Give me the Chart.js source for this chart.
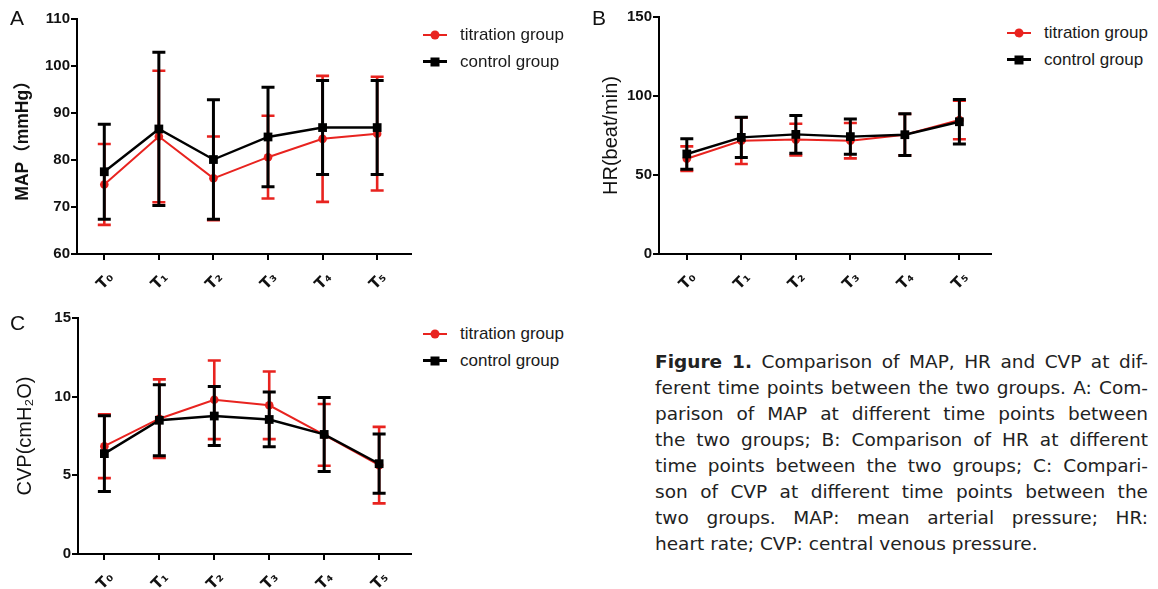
<!DOCTYPE html>
<html>
<head>
<meta charset="utf-8">
<script src="https://cdn.jsdelivr.net/npm/chart.js@4.4.1/dist/chart.umd.min.js"></script>
<style>
  html, body { margin:0; padding:0; background:#fff; }
  #wrap { position:relative; width:1158px; height:589px; overflow:hidden; background:#fff; font-family:"Liberation Sans", Arial, sans-serif; }
  canvas { position:absolute; }
  .letter { position:absolute; font-size:21px; line-height:1; color:#111; }
  .leg { position:absolute; font-size:17px; color:#1a1a1a; }
  .leg .row { height:27px; display:flex; align-items:center; white-space:nowrap; }
  .mk { position:relative; display:inline-block; width:24px; height:2px; margin-right:13px; }
  .mk i { position:absolute; left:50%; top:50%; transform:translate(-50%,-50%); display:block; }
  .mk.red { background:#e8231f; }
  .mk.red i { width:9px; height:9px; border-radius:50%; background:#e8231f; }
  .mk.blk { background:#000; height:3px; }
  .mk.blk i { width:9px; height:9px; background:#000; }
  #cap { position:absolute; left:655px; top:0; width:493px; font-family:"DejaVu Sans", sans-serif; font-size:18.5px; color:#222; }
  #cap .ln { position:absolute; left:0; height:26px; line-height:26px; white-space:nowrap; }
</style>
</head>
<body>
<div id="wrap">
  <canvas id="cA" width="420" height="300" style="left:0;top:0"></canvas>
  <canvas id="cB" width="420" height="300" style="left:580px;top:0"></canvas>
  <canvas id="cC" width="420" height="289" style="left:0;top:300px"></canvas>

  <div class="letter" style="left:10px;top:7px">A</div>
  <div class="letter" style="left:592px;top:7px">B</div>
  <div class="letter" style="left:10px;top:312px">C</div>

  <div class="leg" style="left:423px;top:21px">
    <div class="row"><span class="mk red"><i></i></span>titration group</div>
    <div class="row"><span class="mk blk"><i></i></span>control group</div>
  </div>
  <div class="leg" style="left:1007px;top:19px">
    <div class="row"><span class="mk red"><i></i></span>titration group</div>
    <div class="row"><span class="mk blk"><i></i></span>control group</div>
  </div>
  <div class="leg" style="left:423px;top:320px">
    <div class="row"><span class="mk red"><i></i></span>titration group</div>
    <div class="row"><span class="mk blk"><i></i></span>control group</div>
  </div>

  <div id="cap">
    <div class="ln"><b>Figure 1.</b> Comparison of MAP, HR and CVP at dif-</div>
    <div class="ln">ferent time points between the two groups. A: Com-</div>
    <div class="ln">parison of MAP at different time points between</div>
    <div class="ln">the two groups; B: Comparison of HR at different</div>
    <div class="ln">time points between the two groups; C: Compari-</div>
    <div class="ln">son of CVP at different time points between the</div>
    <div class="ln">two groups. MAP: mean arterial pressure; HR:</div>
    <div class="ln last">heart rate; CVP: central venous pressure.</div>
  </div>
</div>

<script>
// ---- data ----
const timeLabels = ['T\u2080', 'T\u2081', 'T\u2082', 'T\u2083', 'T\u2084', 'T\u2085'];

const mapTitrationMean = [74.8, 85.0, 76.1, 80.6, 84.5, 85.6];
const mapTitrationSD   = [8.6, 14.0, 8.9, 8.8, 13.4, 12.1];
const mapControlMean   = [77.5, 86.6, 80.1, 84.9, 86.9, 86.9];
const mapControlSD     = [10.1, 16.3, 12.7, 10.6, 10.0, 10.0];
const mapTicks = [60, 70, 80, 90, 100, 110];

const hrTitrationMean = [60.3, 71.7, 72.4, 71.7, 75.5, 84.8];
const hrTitrationSD   = [7.8, 14.7, 10.0, 11.2, 13.1, 12.2];
const hrControlMean   = [63.3, 73.8, 75.7, 74.3, 75.5, 83.7];
const hrControlSD     = [9.7, 12.7, 12.0, 11.2, 13.2, 14.1];
const hrTicks = [0, 50, 100, 150];

const cvpTitrationMean = [6.85, 8.6, 9.8, 9.45, 7.57, 5.65];
const cvpTitrationSD   = [2.03, 2.5, 2.5, 2.15, 1.96, 2.43];
const cvpControlMean   = [6.38, 8.5, 8.77, 8.55, 7.6, 5.74];
const cvpControlSD     = [2.41, 2.26, 1.88, 1.74, 2.35, 1.88];
const cvpTicks = [0, 5, 10, 15];

const RED = '#e8231f', BLACK = '#000000';

const errorBars = {
  id: 'errorBars',
  beforeDatasetDraw(chart, args) {
    const ds = chart.data.datasets[args.index];
    if (!ds.sd) return;
    const ctx = chart.ctx, xs = chart.scales.x, ys = chart.scales.y;
    ctx.save();
    ctx.strokeStyle = ds.borderColor;
    ctx.lineWidth = ds.errWidth;
    ctx.lineCap = 'butt';
    ds.data.forEach((p, i) => {
      const x = xs.getPixelForValue(p.x);
      const t = ys.getPixelForValue(p.y + ds.sd[i]);
      const b = ys.getPixelForValue(p.y - ds.sd[i]);
      ctx.beginPath();
      ctx.moveTo(x, t); ctx.lineTo(x, b);
      ctx.moveTo(x - ds.capW, t); ctx.lineTo(x + ds.capW, t);
      ctx.moveTo(x - ds.capW, b); ctx.lineTo(x + ds.capW, b);
      ctx.stroke();
    });
    ctx.restore();
  }
};

function pts(arr) { return arr.map((v, i) => ({ x: i, y: v })); }

function makeChart(id, cfg) {
  const axisFont = { family: '"Liberation Sans", Arial, "Noto Sans CJK SC", sans-serif', size: 15, weight: 'bold' };
  const xFont = { family: '"DejaVu Sans", "Liberation Sans", sans-serif', size: 15, weight: 'bold' };
  new Chart(document.getElementById(id), {
    type: 'line',
    data: {
      datasets: [
        {
          label: 'titration group', data: pts(cfg.tMean), sd: cfg.tSD,
          borderColor: RED, backgroundColor: RED, borderWidth: 2,
          pointStyle: 'circle', pointRadius: 4.3, pointBorderWidth: 0,
          errWidth: 2.6, capW: 6.5, order: 1, tension: 0
        },
        {
          label: 'control group', data: pts(cfg.cMean), sd: cfg.cSD,
          borderColor: BLACK, backgroundColor: BLACK, borderWidth: 2.4,
          pointStyle: 'rect', pointRadius: 6.2, pointBorderWidth: 0,
          errWidth: 3, capW: 6.5, order: 0, tension: 0
        }
      ]
    },
    options: {
      responsive: false,
      animation: false,
      devicePixelRatio: 1,
      layout: { padding: { left: 0, top: cfg.top, right: cfg.right, bottom: 0 } },
      plugins: { legend: { display: false }, tooltip: { enabled: false } },
      scales: {
        x: {
          type: 'linear', min: cfg.xmin, max: cfg.xmax,
          afterBuildTicks: s => { s.ticks = timeLabels.map((_, i) => ({ value: i })); },
          afterFit: s => { s.height = cfg.xh; },
          ticks: {
            callback: v => timeLabels[v], color: '#111', font: xFont,
            minRotation: 45, maxRotation: 45, padding: 9, labelOffset: 7, autoSkip: false
          },
          grid: { display: true, drawOnChartArea: false, drawTicks: true, tickLength: 6, color: '#000', lineWidth: 2 },
          border: { display: true, color: '#000', width: 2 }
        },
        y: {
          min: cfg.yTicks[0], max: cfg.yTicks[cfg.yTicks.length - 1],
          afterBuildTicks: s => { s.ticks = cfg.yTicks.map(v => ({ value: v })); },
          afterFit: s => { s.width = cfg.yw; },
          ticks: { color: '#111', font: axisFont, padding: 1 },
          grid: { display: true, drawOnChartArea: false, drawTicks: true, tickLength: 6, color: '#000', lineWidth: 2 },
          border: { display: true, color: '#000', width: 2 },
          title: {
            display: true, text: cfg.title, color: '#111',
            font: cfg.titleFont, padding: { top: cfg.titlePad, bottom: 0 }
          }
        }
      }
    },
    plugins: [errorBars]
  });
}

const titleFam = '"Liberation Sans", Arial, "Noto Sans CJK SC", sans-serif';

makeChart('cA', {
  tMean: mapTitrationMean, tSD: mapTitrationSD, cMean: mapControlMean, cSD: mapControlSD,
  yTicks: mapTicks, title: 'MAP\uFF08mmHg\uFF09',
  titleFont: { family: titleFam, size: 17.5, weight: 'bold' }, titlePad: 13,
  top: 19, right: 9, yw: 77, xh: 46, xmin: -0.5, xmax: 5.62
});
makeChart('cB', {
  tMean: hrTitrationMean, tSD: hrTitrationSD, cMean: hrControlMean, cSD: hrControlSD,
  yTicks: hrTicks, title: 'HR(beat/min)',
  titleFont: { family: titleFam, size: 20, weight: 'normal' }, titlePad: 19,
  top: 17, right: 9, yw: 79, xh: 46, xmin: -0.51, xmax: 5.58
});
makeChart('cC', {
  tMean: cvpTitrationMean, tSD: cvpTitrationSD, cMean: cvpControlMean, cSD: cvpControlSD,
  yTicks: cvpTicks, title: 'CVP(cmH\u2082O)',
  titleFont: { family: titleFam, size: 20, weight: 'normal' }, titlePad: 13,
  top: 18, right: 9, yw: 78, xh: 35, xmin: -0.48, xmax: 5.58
});

// ---- caption justification ----
(function () {
  const lines = document.querySelectorAll('#cap .ln');
  const W = 493;
  lines.forEach((ln, k) => {
    ln.style.top = (349.1 + k * 26) + 'px';
    if (ln.classList.contains('last')) return;
    const w = ln.getBoundingClientRect().width;
    const n = (ln.textContent.match(/ /g) || []).length;
    if (n > 0) ln.style.wordSpacing = ((W - w) / n) + 'px';
  });
})();
</script>
</body>
</html>
